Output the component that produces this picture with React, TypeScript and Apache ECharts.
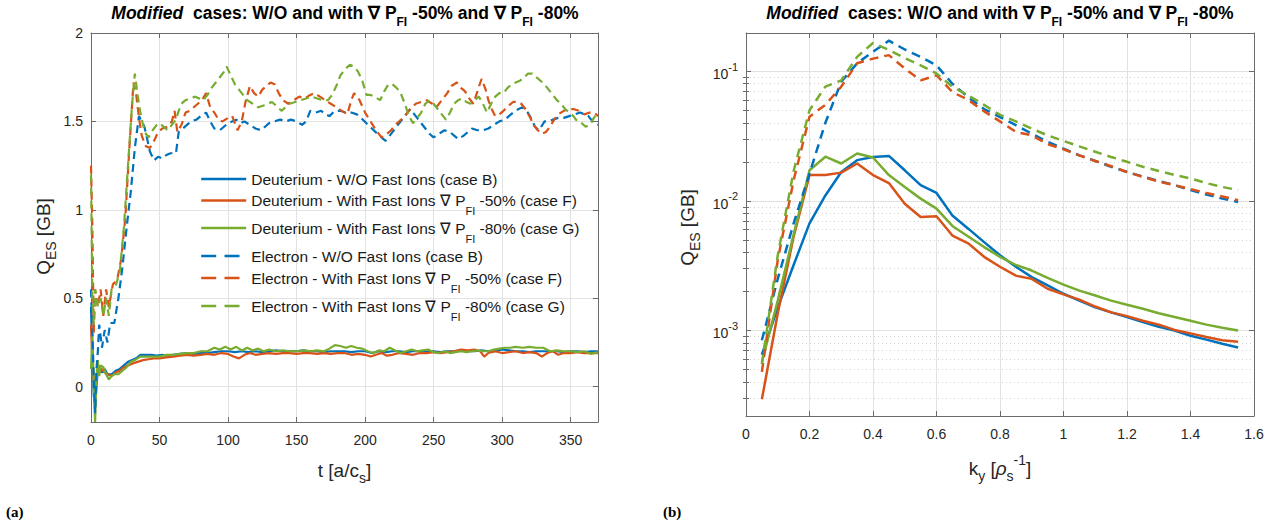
import React, { useEffect, useRef } from "react";
import * as echarts from "echarts";

// ---------- colours / fonts ----------
const C_BLUE = "#0072BD";
const C_ORANGE = "#D95319";
const C_GREEN = "#77AC30";
const FONT = "'Liberation Sans', Arial, Helvetica, sans-serif";
const TXT = "#262626";
const AXLINE = "#6b6b6b";
const GRIDC = "#e2e2e2";
const MINORC = "#d2d2d2";

// ---------- names ----------
const seriesNames = [
  "Deuterium - W/O Fast Ions (case B)",
  "Deuterium - With Fast Ions ∇ P_FI -50% (case F)",
  "Deuterium - With Fast Ions ∇ P_FI -80% (case G)",
  "Electron - W/O Fast Ions (case B)",
  "Electron - With Fast Ions ∇ P_FI -50% (case F)",
  "Electron - With Fast Ions ∇ P_FI -80% (case G)",
];
const seriesColors = [C_BLUE, C_ORANGE, C_GREEN, C_BLUE, C_ORANGE, C_GREEN];

// ---------- panel (a): time traces [t, Q] ----------
const deutB: [number, number][] = [
  [0, 0.45], [1, 0.2], [2, -0.05], [3, -0.12], [4, 0.0], [5, 0.1], [6, 0.12], [8, 0.08], [10, 0.1], [12, 0.07],
  [15, 0.07], [18, 0.09], [21, 0.1], [24, 0.12], [27, 0.14], [30, 0.15], [33, 0.16], [36, 0.18], [40, 0.18],
  [44, 0.18], [48, 0.175], [52, 0.18], [56, 0.175], [60, 0.18], [65, 0.185], [70, 0.19], [75, 0.185], [80, 0.19],
  [85, 0.19], [90, 0.195], [95, 0.2], [100, 0.2], [105, 0.195], [110, 0.2], [115, 0.195], [120, 0.2], [125, 0.195],
  [130, 0.2], [135, 0.205], [140, 0.2], [145, 0.2], [150, 0.2], [155, 0.205], [160, 0.2], [165, 0.2], [170, 0.195],
  [175, 0.2], [180, 0.2], [185, 0.2], [190, 0.195], [195, 0.2], [200, 0.2], [205, 0.19], [210, 0.2], [215, 0.195],
  [220, 0.2], [225, 0.2], [230, 0.195], [235, 0.2], [240, 0.2], [245, 0.2], [250, 0.2], [255, 0.195], [260, 0.2],
  [265, 0.2], [270, 0.205], [275, 0.2], [280, 0.2], [285, 0.205], [290, 0.2], [295, 0.2], [300, 0.21], [305, 0.205],
  [310, 0.2], [315, 0.2], [320, 0.195], [325, 0.2], [330, 0.2], [335, 0.2], [340, 0.2], [345, 0.195], [350, 0.2],
  [355, 0.2], [360, 0.195], [365, 0.2], [370, 0.2],
];
const deutF: [number, number][] = [
  [0, 0.35], [1, 0.15], [2, 0.05], [3, -0.05], [4, 0.05], [5, 0.12], [6, 0.08], [8, 0.1], [10, 0.08], [12, 0.07],
  [15, 0.06], [18, 0.08], [21, 0.09], [24, 0.11], [27, 0.12], [30, 0.13], [34, 0.14], [38, 0.15], [42, 0.155],
  [46, 0.16], [50, 0.16], [55, 0.165], [60, 0.17], [65, 0.175], [70, 0.18], [75, 0.175], [80, 0.18], [85, 0.185],
  [90, 0.18], [95, 0.19], [100, 0.185], [104, 0.17], [108, 0.16], [112, 0.18], [116, 0.19], [120, 0.18], [125, 0.185],
  [130, 0.19], [135, 0.185], [140, 0.19], [145, 0.19], [150, 0.185], [155, 0.19], [160, 0.19], [165, 0.185],
  [170, 0.19], [175, 0.185], [180, 0.19], [185, 0.19], [190, 0.18], [195, 0.185], [200, 0.18], [204, 0.17],
  [208, 0.18], [212, 0.19], [216, 0.175], [220, 0.18], [225, 0.19], [230, 0.185], [235, 0.18], [240, 0.19],
  [245, 0.19], [250, 0.195], [255, 0.19], [260, 0.195], [265, 0.2], [270, 0.21], [275, 0.205], [280, 0.21],
  [284, 0.2], [287, 0.17], [290, 0.19], [295, 0.2], [300, 0.19], [305, 0.195], [310, 0.2], [315, 0.19], [320, 0.195],
  [325, 0.19], [329, 0.17], [333, 0.19], [337, 0.2], [341, 0.18], [345, 0.19], [350, 0.19], [355, 0.195], [360, 0.19],
  [365, 0.19], [370, 0.19],
];
const deutG: [number, number][] = [
  [0, 0.1], [1, 0.3], [2, 0.0], [3, -0.2], [4, 0.05], [5, 0.15], [6, 0.06], [7, 0.12], [9, 0.11], [11, 0.07],
  [13, 0.04], [15, 0.06], [17, 0.07], [20, 0.07], [23, 0.09], [26, 0.11], [29, 0.14], [32, 0.15], [36, 0.17],
  [40, 0.17], [45, 0.17], [50, 0.17], [55, 0.18], [60, 0.18], [65, 0.185], [70, 0.19], [75, 0.19], [80, 0.2],
  [85, 0.2], [90, 0.22], [94, 0.21], [98, 0.225], [102, 0.21], [106, 0.225], [110, 0.205], [114, 0.22], [118, 0.205],
  [122, 0.215], [126, 0.2], [130, 0.21], [135, 0.2], [140, 0.205], [145, 0.2], [150, 0.2], [155, 0.205], [160, 0.2],
  [165, 0.205], [170, 0.2], [174, 0.215], [178, 0.235], [182, 0.23], [186, 0.22], [190, 0.23], [194, 0.22],
  [198, 0.215], [202, 0.2], [206, 0.19], [210, 0.205], [214, 0.2], [218, 0.22], [222, 0.205], [226, 0.19], [230, 0.2],
  [234, 0.21], [238, 0.2], [242, 0.205], [246, 0.21], [250, 0.195], [254, 0.19], [258, 0.2], [262, 0.19],
  [266, 0.195], [270, 0.2], [274, 0.195], [278, 0.2], [282, 0.205], [286, 0.2], [290, 0.2], [294, 0.21], [298, 0.215],
  [302, 0.22], [306, 0.22], [310, 0.225], [315, 0.22], [320, 0.225], [325, 0.22], [330, 0.22], [335, 0.2],
  [340, 0.205], [345, 0.2], [350, 0.2], [355, 0.195], [360, 0.2], [365, 0.185], [370, 0.195],
];
const elecB: [number, number][] = [
  [0, 0.55], [1, 0.3], [2, 0.05], [3, -0.15], [4, 0.1], [5, 0.2], [6, 0.35], [8, 0.22], [10, 0.32], [12, 0.25],
  [14, 0.36], [17, 0.36], [20, 0.5], [23, 0.68], [26, 0.9], [29, 1.1], [32, 1.35], [35, 1.53], [37, 1.5], [39, 1.47],
  [41, 1.4], [43, 1.33], [46, 1.28], [49, 1.3], [52, 1.29], [55, 1.31], [58, 1.32], [62, 1.32], [64, 1.44],
  [67, 1.46], [70, 1.48], [73, 1.5], [77, 1.51], [80, 1.53], [84, 1.55], [87, 1.5], [90, 1.46], [94, 1.45],
  [97, 1.47], [100, 1.49], [103, 1.5], [106, 1.51], [109, 1.49], [112, 1.5], [116, 1.48], [120, 1.46], [124, 1.45],
  [127, 1.47], [130, 1.49], [134, 1.5], [138, 1.51], [142, 1.5], [146, 1.51], [150, 1.5], [154, 1.48], [157, 1.5],
  [160, 1.56], [164, 1.55], [168, 1.56], [171, 1.54], [174, 1.53], [178, 1.56], [182, 1.56], [186, 1.55], [190, 1.55],
  [194, 1.54], [197, 1.52], [201, 1.49], [205, 1.46], [209, 1.43], [212, 1.41], [215, 1.39], [218, 1.42], [221, 1.45],
  [224, 1.48], [227, 1.51], [230, 1.54], [233, 1.57], [236, 1.54], [240, 1.5], [244, 1.46], [247, 1.43], [250, 1.41],
  [254, 1.43], [258, 1.45], [262, 1.44], [265, 1.42], [268, 1.4], [272, 1.42], [275, 1.44], [278, 1.46], [282, 1.45],
  [286, 1.45], [290, 1.46], [294, 1.48], [298, 1.5], [302, 1.51], [305, 1.53], [308, 1.55], [312, 1.57], [315, 1.58],
  [318, 1.56], [321, 1.52], [324, 1.47], [327, 1.45], [331, 1.5], [334, 1.5], [337, 1.51], [341, 1.52], [345, 1.52],
  [349, 1.53], [353, 1.54], [357, 1.55], [360, 1.54], [363, 1.53], [366, 1.5], [370, 1.48],
];
const elecF: [number, number][] = [
  [0, 1.25], [1, 0.9], [2, 0.3], [3, 0.55], [5, 0.45], [7, 0.55], [9, 0.4], [11, 0.55], [13, 0.45], [16, 0.58],
  [19, 0.6], [22, 0.72], [25, 0.95], [28, 1.35], [31, 1.72], [33, 1.65], [35, 1.52], [37, 1.42], [40, 1.36],
  [43, 1.35], [46, 1.39], [49, 1.44], [52, 1.46], [56, 1.47], [59, 1.5], [61, 1.56], [63, 1.44], [66, 1.48],
  [69, 1.55], [72, 1.56], [75, 1.58], [78, 1.6], [81, 1.62], [84, 1.66], [87, 1.58], [90, 1.55], [93, 1.51],
  [96, 1.5], [100, 1.52], [103, 1.53], [107, 1.45], [110, 1.5], [113, 1.62], [116, 1.7], [119, 1.66], [122, 1.64],
  [125, 1.68], [128, 1.7], [131, 1.72], [134, 1.71], [137, 1.66], [140, 1.62], [144, 1.6], [148, 1.62], [152, 1.64],
  [156, 1.63], [160, 1.65], [163, 1.66], [167, 1.64], [171, 1.62], [175, 1.6], [179, 1.58], [183, 1.56], [187, 1.54],
  [190, 1.62], [192, 1.66], [196, 1.62], [200, 1.55], [204, 1.5], [208, 1.45], [212, 1.41], [216, 1.43], [219, 1.45],
  [222, 1.48], [225, 1.5], [229, 1.53], [233, 1.57], [237, 1.6], [241, 1.61], [245, 1.62], [249, 1.6], [252, 1.58],
  [256, 1.62], [260, 1.66], [263, 1.7], [267, 1.72], [270, 1.69], [273, 1.67], [276, 1.63], [279, 1.6], [282, 1.67],
  [285, 1.74], [288, 1.68], [290, 1.62], [293, 1.56], [295, 1.53], [298, 1.54], [301, 1.56], [305, 1.59], [308, 1.61],
  [311, 1.61], [314, 1.6], [317, 1.57], [320, 1.53], [323, 1.48], [326, 1.45], [329, 1.43], [332, 1.44], [335, 1.47],
  [338, 1.51], [341, 1.54], [345, 1.56], [349, 1.57], [352, 1.57], [356, 1.56], [360, 1.54], [364, 1.55], [367, 1.55],
  [370, 1.53],
];
const elecG: [number, number][] = [
  [0, 1.2], [1, 0.5], [2, 0.35], [3, 0.55], [5, 0.45], [7, 0.5], [9, 0.4], [11, 0.5], [13, 0.4], [15, 0.55],
  [18, 0.57], [21, 0.65], [24, 0.9], [27, 1.25], [30, 1.6], [32, 1.77], [34, 1.65], [36, 1.55], [38, 1.48], [40, 1.43],
  [42, 1.41], [45, 1.45], [48, 1.48], [50, 1.49], [53, 1.47], [56, 1.45], [59, 1.48], [62, 1.51], [64, 1.56],
  [66, 1.6], [69, 1.62], [72, 1.63], [76, 1.64], [79, 1.63], [82, 1.62], [85, 1.65], [88, 1.69], [91, 1.72],
  [94, 1.75], [97, 1.78], [99, 1.81], [102, 1.76], [105, 1.71], [108, 1.68], [111, 1.65], [114, 1.62], [118, 1.6],
  [122, 1.58], [126, 1.59], [129, 1.6], [132, 1.61], [135, 1.59], [139, 1.56], [142, 1.58], [145, 1.6], [149, 1.61],
  [153, 1.62], [157, 1.63], [161, 1.64], [165, 1.63], [169, 1.62], [173, 1.62], [176, 1.65], [179, 1.7], [182, 1.76],
  [186, 1.8], [189, 1.82], [192, 1.81], [195, 1.78], [198, 1.73], [201, 1.65], [204, 1.65], [207, 1.64], [211, 1.62],
  [214, 1.67], [217, 1.71], [220, 1.71], [223, 1.69], [226, 1.66], [229, 1.6], [232, 1.53], [235, 1.49], [238, 1.52],
  [241, 1.55], [244, 1.6], [247, 1.62], [250, 1.6], [253, 1.57], [256, 1.54], [259, 1.51], [262, 1.55], [265, 1.6],
  [268, 1.62], [271, 1.63], [274, 1.61], [277, 1.6], [280, 1.62], [283, 1.64], [286, 1.6], [289, 1.55], [292, 1.6],
  [295, 1.64], [298, 1.66], [301, 1.66], [304, 1.69], [307, 1.71], [310, 1.72], [313, 1.73], [316, 1.75], [319, 1.77],
  [322, 1.77], [325, 1.75], [328, 1.73], [331, 1.71], [334, 1.68], [337, 1.65], [340, 1.62], [343, 1.6], [346, 1.57],
  [349, 1.55], [352, 1.53], [355, 1.5], [358, 1.49], [361, 1.47], [364, 1.48], [367, 1.52], [370, 1.55],
];

// ---------- panel (b): spectra vs ky ----------
const kyVals = [0.05, 0.1, 0.15, 0.2, 0.25, 0.3, 0.35, 0.4, 0.45, 0.5, 0.55, 0.6, 0.65, 0.7, 0.75, 0.8, 0.85, 0.9,
  0.95, 1.0, 1.05, 1.1, 1.15, 1.2, 1.25, 1.3, 1.35, 1.4, 1.45, 1.5, 1.55];
const specDeutB = [6.5e-4, 1.5e-3, 3.2e-3, 6.7e-3, 0.011, 0.0167, 0.0206, 0.0218, 0.0222, 0.0172, 0.0132, 0.0115,
  0.0077, 0.0061, 0.0048, 0.0038, 0.0031, 0.00258, 0.00223, 0.00192, 0.0017, 0.00151, 0.00138, 0.00127, 0.00116,
  0.00107, 0.001, 0.00091, 0.00085, 0.00079, 0.00074];
const specDeutF = [2.95e-4, 1.35e-3, 5.3e-3, 0.0158, 0.0158, 0.0165, 0.0194, 0.0158, 0.0137, 0.0095, 0.0075, 0.0076,
  0.0054, 0.0047, 0.0037, 0.0031, 0.00265, 0.0025, 0.0021, 0.0019, 0.00173, 0.00153, 0.00138, 0.00129, 0.00119,
  0.00111, 0.00101, 0.00095, 0.00089, 0.00084, 0.00082];
const specDeutG = [5.7e-4, 1.7e-3, 5.5e-3, 0.0172, 0.0219, 0.0194, 0.0232, 0.0216, 0.0158, 0.0128, 0.0104, 0.0087,
  0.0064, 0.0053, 0.0044, 0.0037, 0.0032, 0.0029, 0.00255, 0.00226, 0.00203, 0.00186, 0.0017, 0.00158, 0.00147,
  0.00136, 0.00127, 0.00119, 0.00111, 0.00105, 0.001];
const specElecB = [8.4e-4, 2.5e-3, 6.7e-3, 0.0162, 0.04, 0.083, 0.115, 0.141, 0.172, 0.147, 0.129, 0.111, 0.08,
  0.063, 0.051, 0.0443, 0.0383, 0.033, 0.0285, 0.0253, 0.0224, 0.0203, 0.0183, 0.0167, 0.0154, 0.0142, 0.0132,
  0.0121, 0.0112, 0.0104, 0.0098];
const specElecF = [4.8e-4, 3.5e-3, 0.0144, 0.0446, 0.055, 0.076, 0.115, 0.125, 0.133, 0.105, 0.085, 0.093, 0.069,
  0.06, 0.049, 0.041, 0.034, 0.032, 0.0274, 0.025, 0.0224, 0.0203, 0.0185, 0.0167, 0.0153, 0.0141, 0.0132, 0.0123,
  0.0115, 0.0108, 0.0101];
const specElecG = [5.5e-4, 3.8e-3, 0.017, 0.05, 0.076, 0.085, 0.129, 0.165, 0.146, 0.126, 0.111, 0.096, 0.076,
  0.065, 0.055, 0.046, 0.041, 0.036, 0.032, 0.029, 0.0263, 0.0239, 0.0218, 0.02, 0.0183, 0.017, 0.0158, 0.0149,
  0.0137, 0.0128, 0.0121];

// ---------- ticks ----------
const ticksT = [0, 50, 100, 150, 200, 250, 300, 350];
const ticksQ = [0, 0.5, 1, 1.5, 2];
const ticksLogMajor = [0.001, 0.01, 0.1];
const ticksLogMinor = [3e-4, 4e-4, 5e-4, 6e-4, 7e-4, 8e-4, 9e-4, 2e-3, 3e-3, 4e-3, 5e-3, 6e-3, 7e-3, 8e-3, 9e-3,
  0.02, 0.03, 0.04, 0.05, 0.06, 0.07, 0.08, 0.09];

const leftSeries = [deutB, deutF, deutG, elecB, elecF, elecG];
const rightSeries = [specDeutB, specDeutF, specDeutG, specElecB, specElecF, specElecG];

// legend row layout (icon centre y)
const legendCenters = [179, 200.5, 228, 256, 278, 306];

const subRich = {
  sub: { fontSize: 11, verticalAlign: "bottom" as const, fontFamily: FONT, color: "#1a1a1a" },
};

function richName(name: string) {
  return name.replace("P_FI", "P{sub|FI}");
}

function buildOption() {
  const lineCommon = { type: "line", showSymbol: false, symbol: "circle", symbolSize: 0, animation: false, silent: true };

  const series: any[] = [];
  leftSeries.forEach((data, i) => {
    series.push({
      ...lineCommon,
      name: seriesNames[i],
      xAxisIndex: 0,
      yAxisIndex: 0,
      data,
      z: 3 + i,
      lineStyle: { color: seriesColors[i], width: 2.2, type: i >= 3 ? [8, 5] : "solid" },
      itemStyle: { color: seriesColors[i] },
    });
  });
  rightSeries.forEach((vals, i) => {
    series.push({
      ...lineCommon,
      name: seriesNames[i],
      xAxisIndex: 2,
      yAxisIndex: 2,
      data: kyVals.map((k, j) => [k, vals[j]]),
      z: 3 + i,
      lineStyle: { color: seriesColors[i], width: 2.5, type: i >= 3 ? [9, 6] : "solid" },
      itemStyle: { color: seriesColors[i] },
    });
  });

  const tickStyle = { color: AXLINE, width: 1 };
  const axLine = { show: true, onZero: false, lineStyle: { color: AXLINE, width: 1 } };
  const labelStyle = { color: TXT, fontSize: 14, fontFamily: FONT };

  const xAxis: any[] = [
    {
      gridIndex: 0, type: "value", min: 0, max: 370, position: "bottom",
      axisLine: axLine,
      axisTick: { inside: true, length: 5, customValues: ticksT, lineStyle: tickStyle },
      axisLabel: { ...labelStyle, customValues: ticksT, margin: 11 },
      splitLine: { show: true, lineStyle: { color: GRIDC, width: 1 } },
      name: "t [a/c{sub|s}]",
      nameLocation: "middle",
      nameGap: 33,
      nameTextStyle: {
        fontSize: 19, color: TXT, fontFamily: FONT, lineHeight: 30,
        rich: { sub: { fontSize: 14, verticalAlign: "bottom", color: TXT, fontFamily: FONT } },
      },
    },
    {
      gridIndex: 0, type: "value", min: 0, max: 370, position: "top",
      axisLine: axLine,
      axisTick: { inside: true, length: 5, customValues: ticksT, lineStyle: tickStyle },
      axisLabel: { show: false },
      splitLine: { show: false },
    },
    {
      gridIndex: 1, type: "value", min: 0, max: 1.6, interval: 0.2, position: "bottom",
      axisLine: axLine,
      axisTick: { inside: true, length: 5, lineStyle: tickStyle },
      axisLabel: { ...labelStyle, margin: 11 },
      splitLine: { show: true, lineStyle: { color: GRIDC, width: 1 } },
      name: "k{sub|y} [{i|ρ}{sub|s}{sup|-1}]",
      nameLocation: "middle",
      nameGap: 37,
      nameTextStyle: {
        fontSize: 19, color: TXT, fontFamily: FONT, lineHeight: 30,
        rich: {
          sub: { fontSize: 14, verticalAlign: "bottom", color: TXT, fontFamily: FONT },
          sup: { fontSize: 14, verticalAlign: "top", color: TXT, fontFamily: FONT },
          i: { fontSize: 19, fontStyle: "italic", color: TXT, fontFamily: FONT },
        },
      },
    },
    {
      gridIndex: 1, type: "value", min: 0, max: 1.6, interval: 0.2, position: "top",
      axisLine: axLine,
      axisTick: { inside: true, length: 5, lineStyle: tickStyle },
      axisLabel: { show: false },
      splitLine: { show: false },
    },
  ];

  const logMin = 2.19e-4;
  const logMax = 0.197;
  const yAxis: any[] = [
    {
      gridIndex: 0, type: "value", min: -0.2, max: 2, position: "left",
      axisLine: axLine,
      axisTick: { inside: true, length: 5, customValues: ticksQ, lineStyle: tickStyle },
      axisLabel: { ...labelStyle, customValues: ticksQ, margin: 8 },
      splitLine: { show: true, lineStyle: { color: GRIDC, width: 1 } },
      name: "Q{sub|ES} [GB]",
      nameLocation: "middle",
      nameRotate: 90,
      nameGap: 33,
      nameTextStyle: {
        fontSize: 19, color: TXT, fontFamily: FONT, lineHeight: 30, padding: [0, 18, 0, 0],
        rich: { sub: { fontSize: 14, verticalAlign: "bottom", color: TXT, fontFamily: FONT } },
      },
    },
    {
      gridIndex: 0, type: "value", min: -0.2, max: 2, position: "right",
      axisLine: axLine,
      axisTick: { inside: true, length: 5, customValues: ticksQ, lineStyle: tickStyle },
      axisLabel: { show: false },
      splitLine: { show: false },
    },
    {
      gridIndex: 1, type: "log", logBase: 10, min: logMin, max: logMax, position: "left",
      axisLine: axLine,
      axisTick: { inside: true, length: 5, customValues: ticksLogMajor, lineStyle: tickStyle },
      axisLabel: {
        ...labelStyle,
        customValues: ticksLogMajor,
        margin: 8,
        lineHeight: 20,
        formatter: (v: number) => `{b|10}{s|${Math.round(Math.log10(v))}}`,
        rich: {
          b: { fontSize: 14, verticalAlign: "bottom", color: TXT, fontFamily: FONT },
          s: { fontSize: 11, verticalAlign: "top", color: TXT, fontFamily: FONT },
        },
      },
      splitLine: { show: true, lineStyle: { color: GRIDC, width: 1 } },
      name: "Q{sub|ES} [GB]",
      nameLocation: "middle",
      nameRotate: 90,
      nameGap: 44,
      nameTextStyle: {
        fontSize: 19, color: TXT, fontFamily: FONT, lineHeight: 30, padding: [0, 6, 0, 0],
        rich: { sub: { fontSize: 14, verticalAlign: "bottom", color: TXT, fontFamily: FONT } },
      },
    },
    {
      gridIndex: 1, type: "log", logBase: 10, min: logMin, max: logMax, position: "right",
      axisLine: axLine,
      axisTick: { inside: true, length: 5, customValues: ticksLogMajor, lineStyle: tickStyle },
      axisLabel: { show: false },
      splitLine: { show: false },
    },
    {
      gridIndex: 1, type: "log", logBase: 10, min: logMin, max: logMax, position: "left",
      axisLine: { show: false },
      axisTick: { inside: true, length: 3, customValues: ticksLogMinor, lineStyle: tickStyle },
      axisLabel: { show: false },
      splitLine: { show: true, lineStyle: { color: MINORC, width: 1, type: [1, 3] } },
    },
    {
      gridIndex: 1, type: "log", logBase: 10, min: logMin, max: logMax, position: "right",
      axisLine: { show: false },
      axisTick: { inside: true, length: 3, customValues: ticksLogMinor, lineStyle: tickStyle },
      axisLabel: { show: false },
      splitLine: { show: false },
    },
  ];

  const titleText = "{i|Modified}  cases: W/O and with ∇ P{sub|FI} -50% and ∇ P{sub|FI} -80%";
  const titleStyle = {
    fontSize: 17.5, fontWeight: "bold", color: "#000", fontFamily: FONT, lineHeight: 30,
    rich: {
      i: { fontSize: 17.5, fontWeight: "bold", fontStyle: "italic", color: "#000", fontFamily: FONT },
      sub: { fontSize: 12, fontWeight: "bold", verticalAlign: "bottom", color: "#000", fontFamily: FONT },
    },
  };

  const legends = seriesNames.map((name, i) => {
    const hasSub = name.includes("P_FI");
    const h = hasSub ? 32 : 18;
    return {
      show: true,
      left: 200,
      top: legendCenters[i] - h / 2,
      orient: "vertical",
      padding: 0,
      itemWidth: 45,
      itemHeight: 14,
      selectedMode: false,
      data: [name],
      formatter: (n: string) => richName(n),
      itemStyle: { opacity: 0, borderWidth: 0 },
      lineStyle: i >= 3 ? { type: [15, 8.3], width: 2.4 } : { width: 2.4 },
      textStyle: {
        fontSize: 15.5, color: "#1a1a1a", fontFamily: FONT, lineHeight: h,
        rich: subRich,
      },
    };
  });

  return {
    animation: false,
    backgroundColor: "#ffffff",
    textStyle: { fontFamily: FONT },
    title: [
      { text: titleText, left: 345, top: -2, textAlign: "center", padding: 0, textStyle: titleStyle },
      { text: titleText, left: 1000, top: -2, textAlign: "center", padding: 0, textStyle: titleStyle },
    ],
    legend: legends,
    grid: [
      { left: 91, top: 33, width: 507, height: 389, containLabel: false },
      { left: 746, top: 33, width: 508, height: 383, containLabel: false },
    ],
    xAxis,
    yAxis,
    series,
    graphic: [
      { type: "text", left: 6, top: 504, style: { text: "(a)", fontSize: 15, fontWeight: "bold", fontFamily: "'Liberation Serif', 'DejaVu Serif', serif", fill: "#000" } },
      { type: "text", left: 663, top: 504, style: { text: "(b)", fontSize: 15, fontWeight: "bold", fontFamily: "'Liberation Serif', 'DejaVu Serif', serif", fill: "#000" } },
    ],
  };
}

export default function App() {
  const ref = useRef<HTMLDivElement>(null);
  useEffect(() => {
    if (!ref.current) return;
    const chart = echarts.init(ref.current, null, { renderer: "svg" });
    chart.setOption(buildOption() as any);
    return () => chart.dispose();
  }, []);
  return (
    <div
      ref={ref}
      style={{ position: "fixed", left: 0, top: 0, width: 1270, height: 524, background: "#fff" }}
    />
  );
}
